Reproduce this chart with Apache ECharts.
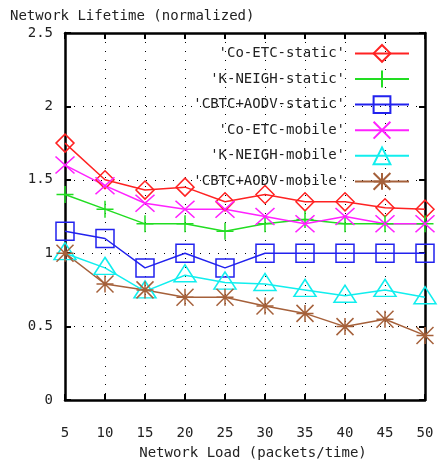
<!DOCTYPE html>
<html>
<head>
<meta charset="utf-8">
<script src="https://cdn.jsdelivr.net/npm/echarts@6/dist/echarts.min.js"></script>
<style>
  html, body { margin: 0; padding: 0; background: #fff; }
  #chart { width: 438px; height: 465px; }
</style>
</head>
<body>
<div id="chart"></div>
<script>
// network load (packets/time)
const loads = [5, 10, 15, 20, 25, 30, 35, 40, 45, 50];

const coEtcStatic   = [1.75, 1.50, 1.43, 1.45, 1.35, 1.40, 1.35, 1.35, 1.31, 1.30];
const kNeighStatic  = [1.40, 1.30, 1.20, 1.20, 1.15, 1.20, 1.23, 1.20, 1.20, 1.20];
const cbtcStatic    = [1.15, 1.10, 0.90, 1.00, 0.90, 1.00, 1.00, 1.00, 1.00, 1.00];
const coEtcMobile   = [1.60, 1.46, 1.34, 1.30, 1.30, 1.25, 1.20, 1.25, 1.20, 1.20];
const kNeighMobile  = [1.00, 0.90, 0.74, 0.85, 0.80, 0.79, 0.75, 0.71, 0.75, 0.70];
const cbtcMobile    = [1.00, 0.79, 0.75, 0.70, 0.70, 0.64, 0.59, 0.50, 0.55, 0.44];

const FONT = 'DejaVu Sans Mono';
const INK = '#222';

const chart = echarts.init(document.getElementById('chart'));

function line(name, vals, color, symbol, size, offset) {
    return {
        name: name,
        type: 'line',
        data: loads.map((x, i) => [x, vals[i]]),
        symbol: symbol,
        symbolSize: size,
        symbolOffset: offset || [0, 0],
        lineStyle: { color: color, width: 1.5 },
        itemStyle: { color: 'rgba(0,0,0,0)', borderColor: color, borderWidth: 1.5 },
        emphasis: { disabled: true },
        z: 3
    };
}

const diamond = 'path://M0,-1 L1,0 L0,1 L-1,0 Z';
const plus = 'path://M0,-1 L0,1 M-1,0 L1,0';
const square = 'path://M-1,-1 L1,-1 L1,1 L-1,1 Z';
const cross = 'path://M-1,-1 L1,1 M1,-1 L-1,1';
const triangle = 'path://M0,-1 L1,1 L-1,1 Z';
const star = 'path://M0,-1 L0,1 M-1,0 L1,0 M-1,-1 L1,1 M1,-1 L-1,1';

const tickStyle = { show: true, inside: true, length: 6, lineStyle: { color: '#000', width: 2 } };
const borderLine = { show: true, onZero: false, lineStyle: { color: '#000', width: 2.5 } };
const dotted = { show: true, lineStyle: { color: '#000', width: 1, type: [1, 8] } };

chart.setOption({
    animation: false,
    backgroundColor: '#fff',
    title: {
        text: 'Network Lifetime (normalized)',
        left: 5, top: 4,
        textStyle: { fontFamily: FONT, fontSize: 14, fontWeight: 'normal', color: INK }
    },
    legend: {
        orient: 'vertical',
        right: 23, top: 39,
        align: 'right',
        itemWidth: 54, itemHeight: 21, itemGap: 6.8,
        textStyle: { fontFamily: FONT, fontSize: 14, color: INK, padding: [0, 5, 0, 0] },
        selectedMode: false
    },
    grid: { left: 65, right: 13, top: 33, bottom: 57 },
    xAxis: [{
        type: 'value', min: 5, max: 50, interval: 5,
        name: 'Network Load (packets/time)', nameLocation: 'middle', nameGap: 46,
        nameTextStyle: { fontFamily: FONT, fontSize: 14, color: INK, padding: [0, 0, 0, 16] },
        axisLine: borderLine, axisTick: tickStyle,
        axisLabel: { fontFamily: FONT, fontSize: 14, color: INK, margin: 26 },
        splitLine: dotted
    }, {
        type: 'value', min: 5, max: 50, interval: 5, position: 'top',
        axisLine: borderLine, axisTick: tickStyle,
        axisLabel: { show: false }, splitLine: { show: false }
    }],
    yAxis: [{
        type: 'value', min: 0, max: 2.5, interval: 0.5,
        axisLine: borderLine, axisTick: tickStyle,
        axisLabel: { fontFamily: FONT, fontSize: 14, color: INK, margin: 12 },
        splitLine: dotted
    }, {
        type: 'value', min: 0, max: 2.5, interval: 0.5, position: 'right',
        axisLine: borderLine, axisTick: tickStyle,
        axisLabel: { show: false }, splitLine: { show: false }
    }],
    series: [
        line("'Co-ETC-static'", coEtcStatic, '#f22', diamond, 18),
        line("'K-NEIGH-static'", kNeighStatic, '#2d2', plus, 17),
        line("'CBTC+AODV-static'", cbtcStatic, '#22e', square, 18),
        line("'Co-ETC-mobile'", coEtcMobile, '#f2f', cross, [19, 17]),
        line("'K-NEIGH-mobile'", kNeighMobile, '#1ee', triangle, [22, 17], [0, -2]),
        line("'CBTC+AODV-mobile'", cbtcMobile, '#a5603a', star, 17)
    ]
});
</script>
</body>
</html>
